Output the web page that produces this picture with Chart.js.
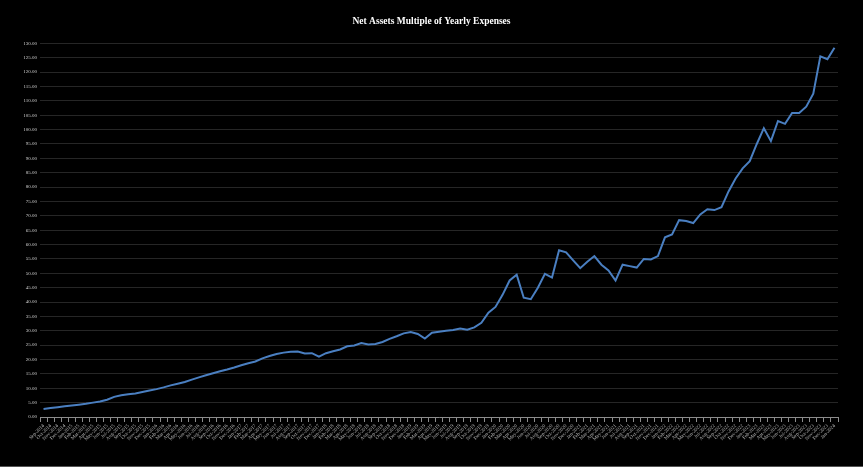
<!DOCTYPE html>
<html>
<head>
<meta charset="utf-8">
<script src="https://cdn.jsdelivr.net/npm/chart.js@4"></script>
<style>
html,body{margin:0;padding:0;background:#000;}
#wrap{width:863px;height:467px;position:relative;box-sizing:border-box;border-bottom:1px solid #555;}
canvas{display:block;}
</style>
</head>
<body>
<div id="wrap"><canvas id="c" width="863" height="466"></canvas></div>
<script>
const title = "Net Assets Multiple of Yearly Expenses";
const startYear = 2014;
const startMonth = 8; // September (0-based)
const monthNames = ["Jan","Feb","Mar","Apr","May","Jun","Jul","Aug","Sep","Oct","Nov","Dec"];

const multiple = [
  2.8, 3.1, 3.4, 3.7, 4.0, 4.3, 4.6, 5.0, 5.4, 6.0,
  7.0, 7.6, 7.9, 8.2, 8.7, 9.2, 9.7, 10.3, 11.0, 11.6,
  12.2, 13.0, 13.8, 14.5, 15.2, 15.9, 16.5, 17.2, 18.0, 18.7,
  19.3, 20.4, 21.2, 21.9, 22.4, 22.7, 22.8, 22.1, 22.2, 21.0,
  22.2, 22.9, 23.5, 24.6, 24.9, 25.7, 25.2, 25.4, 26.1, 27.2,
  28.1, 29.1, 29.6, 28.9, 27.3, 29.3, 29.7, 30.0, 30.3, 30.8,
  30.4, 31.2, 32.8, 36.3, 38.3, 42.5, 47.5, 49.5, 41.5, 41.0,
  45.0, 49.8, 48.5, 58.0, 57.3, 54.5, 51.8, 54.0, 56.0, 53.0,
  51.0, 47.5, 53.0, 52.5, 52.0, 55.0, 54.8, 56.0, 62.5, 63.5,
  68.5, 68.2, 67.5, 70.5, 72.3, 72.0, 73.0, 78.5, 83.0, 86.5,
  89.0, 95.0, 100.5, 96.0, 103.0, 102.0, 105.8, 105.8, 108.0, 112.5,
  125.5, 124.5, 128.5
];

const months = multiple.map((v, i) => {
  const m = (startMonth + i) % 12;
  const y = startYear + Math.floor((startMonth + i) / 12);
  return monthNames[m] + "-" + y;
});

const serif = "'Liberation Serif', 'Times New Roman', serif";

new Chart(document.getElementById('c'), {
  type: 'line',
  data: {
    labels: months,
    datasets: [{
      data: multiple,
      borderColor: '#4a7fc1',
      borderWidth: 2,
      pointRadius: 0,
      tension: 0,
      fill: false
    }]
  },
  options: {
    responsive: false,
    animation: false,
    layout: { padding: 0 },
    plugins: {
      legend: { display: false },
      tooltip: { enabled: false },
      title: {
        display: true,
        text: title,
        color: '#ffffff',
        font: { family: serif, size: 9.5, weight: 'bold' },
        padding: { top: 16, bottom: 16 }
      }
    },
    scales: {
      x: {
        offset: true,
        grid: {
          offset: true,
          drawOnChartArea: false,
          drawTicks: true,
          tickLength: 5,
          color: '#8c8c8c'
        },
        border: { color: '#8c8c8c', width: 1 },
        ticks: {
          autoSkip: false,
          maxRotation: 45,
          minRotation: 45,
          color: '#bfbfbf',
          padding: 1,
          font: { family: serif, size: 5 }
        },
        afterFit: (s) => { s.height = 49; }
      },
      y: {
        min: 0,
        max: 130,
        grid: { color: '#262626', lineWidth: 1, drawTicks: false },
        border: { display: false },
        ticks: {
          stepSize: 5,
          color: '#cfcfcf',
          padding: 3,
          font: { family: serif, size: 5 },
          callback: (v) => Number(v).toFixed(2)
        },
        afterFit: (s) => { s.width = 40; }
      },
      yRight: {
        position: 'right',
        display: true,
        min: 0,
        max: 130,
        grid: { display: false, drawOnChartArea: false, drawTicks: false },
        border: { display: false },
        ticks: { display: false },
        afterFit: (s) => { s.width = 25; }
      }
    }
  }
});
</script>
</body>
</html>
